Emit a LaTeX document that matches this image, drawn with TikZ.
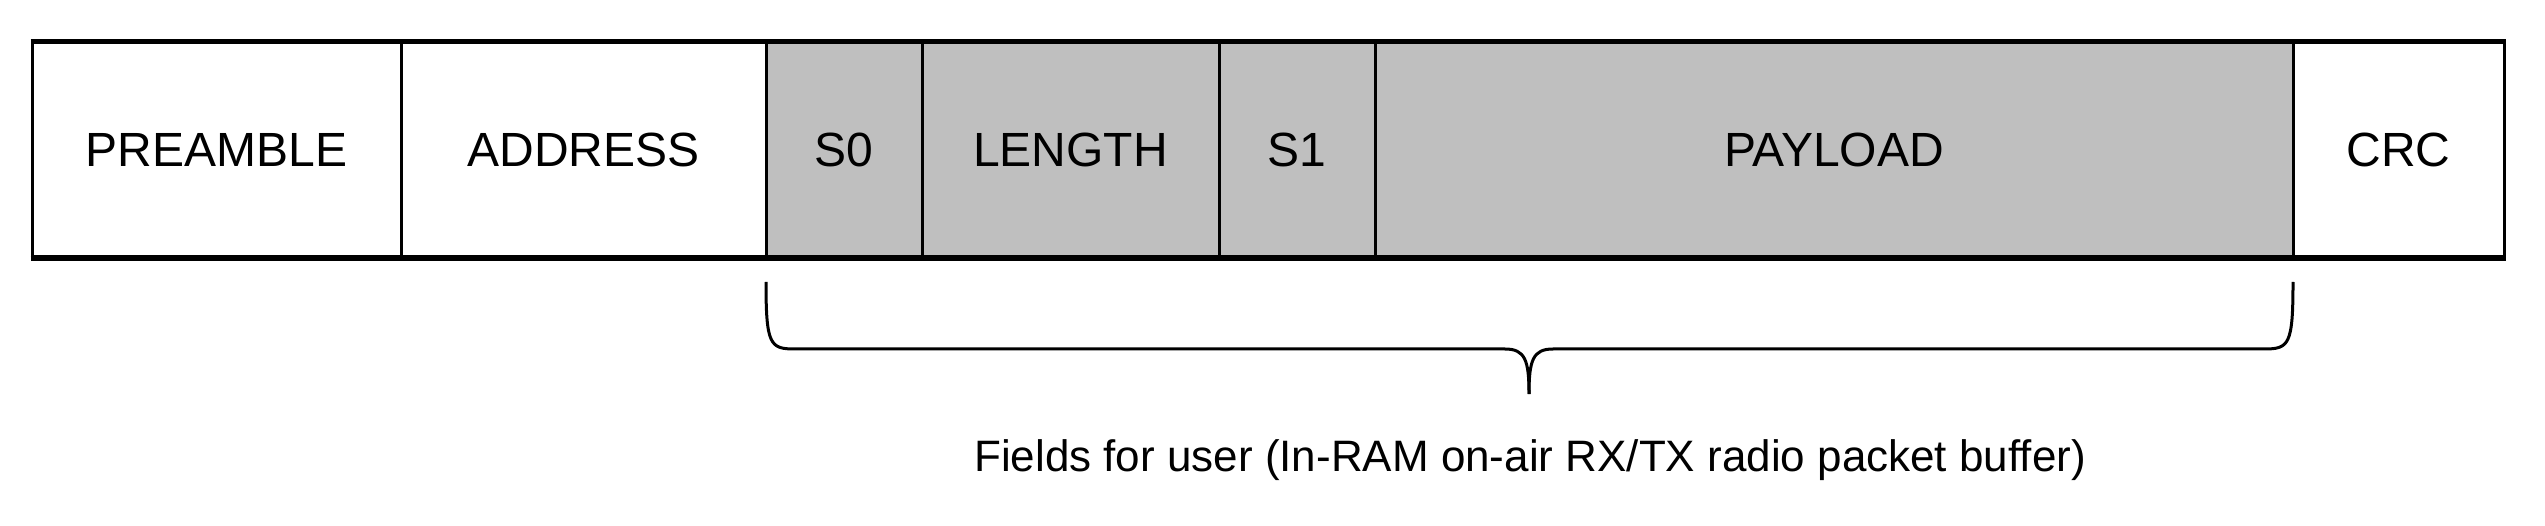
\documentclass[tikz,border=0pt]{standalone}
\usepackage{fontspec}
\setmainfont{Liberation Sans}
\begin{document}
\begin{tikzpicture}[x=1pt,y=-1pt,
  field/.style={draw=black,line width=3pt,minimum height=214pt,inner sep=0pt,font=\fontsize{48}{56}\selectfont},
  userf/.style={field,fill=black!25}]
\useasboundingbox (0,0) rectangle (2545,526);
\node[field,minimum width=369pt] (pre) at (216.5,150) {PREAMBLE};
\node[field,minimum width=365pt] (adr) at (583.5,150) {ADDRESS};
\node[userf,minimum width=156pt] (s0) at (844,150) {S0};
\node[userf,minimum width=297pt] (len) at (1070.5,150) {LENGTH};
\node[userf,minimum width=156pt] (s1) at (1297,150) {S1};
\node[userf,minimum width=918pt] (pay) at (1834,150) {PAYLOAD};
\node[field,minimum width=211pt] (crc) at (2398.5,150) {CRC};
\draw[line width=5pt] (pre.north west) -- (crc.north east);
\draw[line width=5pt] (pre.south west) -- (crc.south east);
\coordinate (bl) at (766,282);
\coordinate (br) at (2293,282);
\coordinate (tip) at (1529,394);
\draw[line width=3pt] (bl) .. controls (766,345) and (770,349) .. (795,349) -- (1505,349)
  .. controls (1525,349) and (1529,360) .. (tip);
\draw[line width=3pt] (br) .. controls (2293,345) and (2289,349) .. (2264,349) -- (1553,349)
  .. controls (1533,349) and (1529,360) .. (tip);
\node[font=\fontsize{44}{52}\selectfont] (cap) at (1530,460) {Fields for user (In-RAM on-air RX/TX radio packet buffer)};
\end{tikzpicture}
\end{document}
